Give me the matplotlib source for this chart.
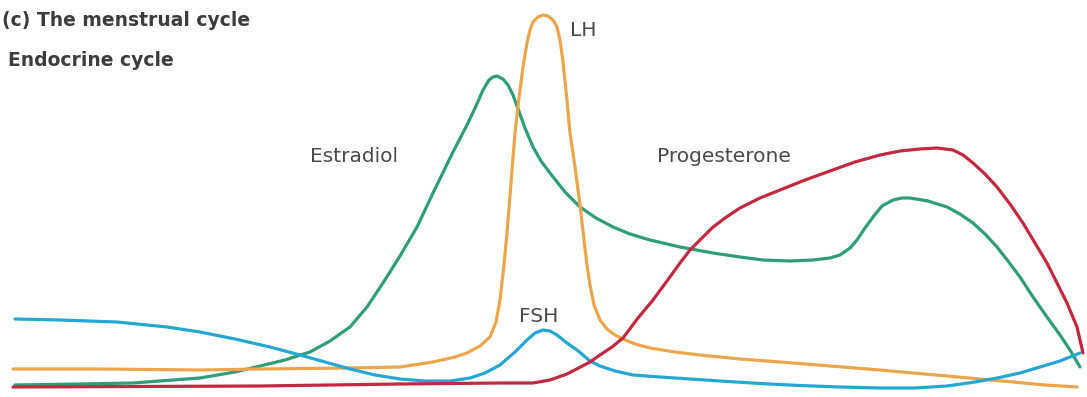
import matplotlib
matplotlib.use("Agg")
import matplotlib.pyplot as plt

# Horizontal position along the cycle (image x units) and curve heights (image rows, top=0)
estradiol_x = [15, 80, 133, 200, 235, 260, 285, 310, 330, 350, 367, 383, 400, 417, 433, 453, 467, 476, 483, 489, 493, 497, 503, 508, 513, 517, 525, 533, 541, 550, 565, 580, 596, 613, 630, 650, 680, 713, 740, 763, 790, 813, 830, 840, 850, 857, 865, 873, 882, 893, 902, 910, 928, 947, 960, 973, 985, 997, 1008, 1020, 1033, 1047, 1060, 1070, 1080]
estradiol_y = [385, 384, 383, 378, 372, 366, 360, 352, 341, 327, 307, 283, 256, 227, 193, 152, 125, 106, 90, 80, 77, 76, 79, 85, 95, 106, 128, 147, 161, 173, 192, 207, 218, 227, 234, 240, 247, 253, 257, 260, 261, 260, 258, 255, 248, 240, 228, 217, 206, 200, 198, 198, 201, 207, 214, 223, 234, 247, 261, 277, 297, 317, 335, 350, 367]

lh_x = [13, 100, 200, 260, 350, 400, 433, 455, 467, 480, 490, 496, 500, 504, 507, 511, 515, 519, 523, 527, 530, 533, 538, 543, 548, 553, 557, 560, 563, 567, 570, 575, 580, 584, 587, 590, 594, 600, 607, 615, 623, 635, 650, 675, 700, 740, 780, 830, 880, 913, 947, 980, 1013, 1045, 1077]
lh_y = [369, 369, 370, 369, 368, 367, 362, 357, 353, 346, 337, 322, 300, 265, 233, 183, 133, 98, 67, 43, 30, 22, 17, 15, 16, 20, 27, 40, 62, 100, 133, 167, 205, 240, 265, 285, 305, 320, 329, 335, 339, 344, 348, 352, 355, 359, 362, 366, 370, 373, 376, 379, 382, 385, 387]

fsh_x = [15, 60, 117, 167, 200, 235, 270, 300, 325, 350, 375, 400, 425, 450, 470, 485, 500, 515, 527, 535, 543, 550, 557, 567, 577, 590, 600, 615, 633, 660, 690, 720, 760, 800, 840, 880, 915, 947, 975, 997, 1020, 1040, 1060, 1080]
fsh_y = [319, 320, 322, 327, 332, 339, 347, 355, 362, 369, 375, 379, 381, 381, 378, 373, 365, 352, 340, 333, 330, 331, 335, 343, 350, 361, 366, 371, 375, 377, 379, 381, 383.5, 385.5, 387, 388, 388, 386, 382, 378, 373, 367, 361, 353]

prog_x = [13, 260, 400, 500, 533, 550, 567, 590, 600, 612, 623, 638, 653, 667, 680, 690, 700, 712, 725, 740, 760, 780, 805, 830, 855, 880, 900, 920, 937, 953, 963, 973, 985, 997, 1010, 1023, 1035, 1047, 1057, 1067, 1077, 1083]
prog_y = [387, 386, 384, 383, 383, 380, 374, 362, 355, 347, 338, 318, 300, 281, 263, 250, 240, 228, 218, 208, 198, 190, 180, 171, 162, 155, 151, 149, 148, 150, 155, 163, 174, 187, 204, 223, 243, 263, 283, 303, 327, 353]

labels = ["Estradiol", "LH", "FSH", "Progesterone"]
colors = ["#2e9e78", "#eba64c", "#25a7d4", "#c2293f"]

fig = plt.figure(figsize=(10.87, 3.97), dpi=100)
ax = fig.add_axes([0, 0, 1, 1])
ax.set_xlim(0, 1087)
ax.set_ylim(397, 0)
ax.axis("off")

series = [(estradiol_x, estradiol_y), (lh_x, lh_y), (fsh_x, fsh_y), (prog_x, prog_y)]
for (xs, ys), c in zip(series, colors):
    ax.plot(xs, ys, color=c, lw=2.3, solid_capstyle="round", solid_joinstyle="round")

tc = "#3c3c3c"
ax.text(2, 21, "(c) The menstrual cycle", fontsize=13.5, fontweight="bold", color=tc, va="center")
ax.text(8, 61, "Endocrine cycle", fontsize=13.5, fontweight="bold", color=tc, va="center")
lc = "#4a4a4a"
ax.text(310, 156, labels[0], fontsize=14.5, color=lc, va="center")
ax.text(570, 31, labels[1], fontsize=14.5, color=lc, va="center")
ax.text(519, 316, labels[2], fontsize=14.5, color=lc, va="center")
ax.text(657, 156, labels[3], fontsize=14.5, color=lc, va="center")

fig.savefig("out.png", dpi=100, facecolor="white")
